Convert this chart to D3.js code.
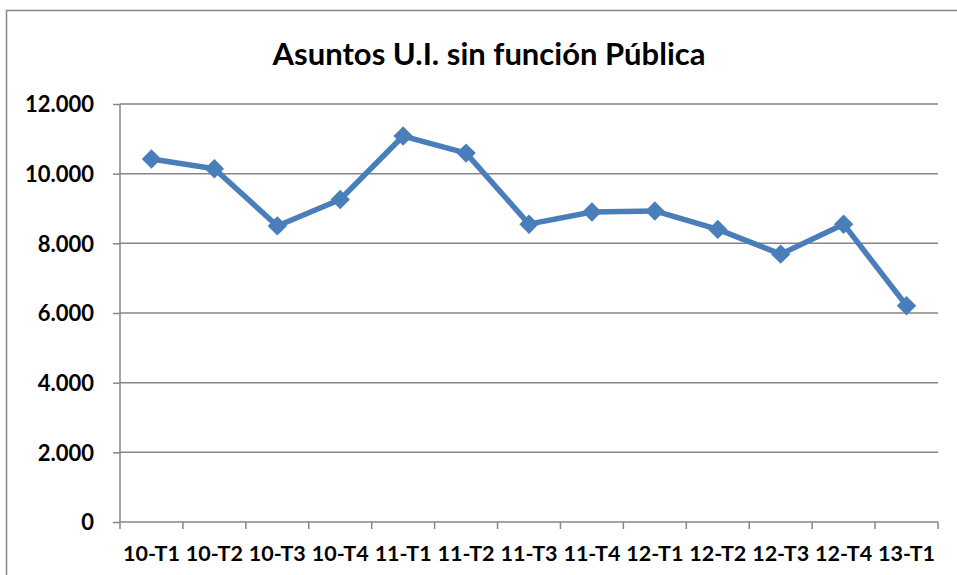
<!DOCTYPE html>
<html>
<head>
<meta charset="utf-8">
<script src="https://cdn.jsdelivr.net/npm/d3@7"></script>
<style>
  body { margin: 0; background: #fff; }
  text { font-family: Lato, "Open Sans", sans-serif; font-weight: bold; fill: #000; }
</style>
</head>
<body>
<div id="chart"></div>
<script>
const categories = ['10-T1', '10-T2', '10-T3', '10-T4', '11-T1', '11-T2', '11-T3',
    '11-T4', '12-T1', '12-T2', '12-T3', '12-T4', '13-T1'];
const values = [10420, 10140, 8500, 9260, 11080, 10590, 8550, 8900, 8930, 8400, 7690, 8550, 6210];
const yTicks = [0, 2000, 4000, 6000, 8000, 10000, 12000];
const title = 'Asuntos U.I. sin función Pública';

const width = 957, height = 575;
const plotLeft = 120, plotRight = 938, plotTop = 104, plotBottom = 522;
const gridColor = '#868686';
const lineColor = '#4a7ebb';

const svg = d3.select('#chart').append('svg')
    .attr('width', width)
    .attr('height', height);

// chart border (only left and top visible in the crop)
svg.append('path')
    .attr('d', `M6.5,${height} V10.5 H${width}`)
    .attr('fill', 'none')
    .attr('stroke', gridColor)
    .attr('stroke-width', 1.5);

svg.append('text')
    .attr('x', 489)
    .attr('y', 65)
    .attr('text-anchor', 'middle')
    .style('font-size', '31px')
    .text(title);

const x = d3.scaleBand().domain(categories).range([plotLeft, plotRight]);
const y = d3.scaleLinear().domain([0, 12000]).range([plotBottom, plotTop]);

// gridlines
svg.append('g')
    .selectAll('line')
    .data(yTicks.filter(d => d > 0))
    .enter()
    .append('line')
    .attr('x1', plotLeft)
    .attr('x2', plotRight)
    .attr('y1', d => y(d))
    .attr('y2', d => y(d))
    .attr('stroke', gridColor)
    .attr('stroke-width', 1.5);

const fmt = d => d === 0 ? '0' : d3.format(',')(d).replace(/,/g, '.');

const yAxis = d3.axisLeft(y)
    .tickValues(yTicks)
    .tickFormat(fmt)
    .tickSize(7)
    .tickPadding(19);

svg.append('g')
    .attr('transform', `translate(${plotLeft},0)`)
    .call(yAxis)
    .call(g => g.selectAll('line, path').attr('stroke', gridColor).attr('stroke-width', 1.5))
    .call(g => g.select('.domain').attr('d', `M0,${plotBottom}V${plotTop}`))
    .call(g => g.selectAll('text').style('font-size', '22px').attr('dy', '0.36em'));

// x axis: ticks at band boundaries
const xAxisG = svg.append('g').attr('transform', `translate(0,${plotBottom})`);
xAxisG.append('line')
    .attr('x1', plotLeft).attr('x2', plotRight)
    .attr('stroke', gridColor).attr('stroke-width', 1.5);
const boundaries = categories.map(c => x(c)).concat([plotRight]);
xAxisG.selectAll('.tick')
    .data(boundaries)
    .enter()
    .append('line')
    .attr('x1', d => d).attr('x2', d => d)
    .attr('y1', 0).attr('y2', 7)
    .attr('stroke', gridColor).attr('stroke-width', 1.5);
xAxisG.selectAll('.lbl')
    .data(categories)
    .enter()
    .append('text')
    .attr('x', d => x(d) + x.bandwidth() / 2)
    .attr('y', 39)
    .attr('text-anchor', 'middle')
    .style('font-size', '21.5px')
    .text(d => d);

// series
const cx = (d, i) => x(categories[i]) + x.bandwidth() / 2;
const line = d3.line().x(cx).y(d => y(d));

svg.append('path')
    .datum(values)
    .attr('d', line)
    .attr('fill', 'none')
    .attr('stroke', lineColor)
    .attr('stroke-width', 5.5)
    .attr('stroke-linejoin', 'round');

svg.append('g')
    .selectAll('path')
    .data(values)
    .enter()
    .append('path')
    .attr('d', d3.symbol().type(d3.symbolDiamond2).size(240))
    .attr('transform', (d, i) => `translate(${cx(d, i)},${y(d)})`)
    .attr('fill', lineColor);
</script>
</body>
</html>
